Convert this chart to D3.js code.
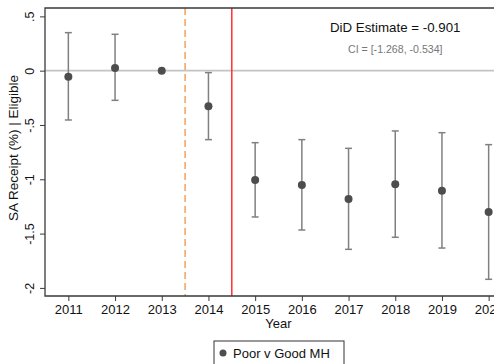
<!DOCTYPE html>
<html>
<head>
<meta charset="utf-8">
<script src="https://cdn.jsdelivr.net/npm/d3@7"></script>
<style>
  html, body { margin: 0; padding: 0; background: #fff; }
  svg { display: block; font-family: "Liberation Sans", Arial, sans-serif; }
</style>
</head>
<body>
<svg id="chart" width="494" height="364"></svg>
<script>
// Event-study estimates: SA receipt, poor vs good mental health
const years = [2011, 2012, 2013, 2014, 2015, 2016, 2017, 2018, 2019, 2020];
const estimates = [-0.055, 0.025, 0, -0.328, -1.006, -1.052, -1.181, -1.046, -1.105, -1.301];
const ciLow = [-0.454, -0.273, null, -0.635, -1.347, -1.467, -1.645, -1.534, -1.633, -1.921];
const ciHigh = [0.35, 0.335, null, -0.018, -0.663, -0.635, -0.715, -0.555, -0.571, -0.681];
const yTicks = [0.5, 0, -0.5, -1, -1.5, -2];
const yTickLabels = [".5", "0", "-.5", "-1", "-1.5", "-2"];
const announceYear = 2013.5;
const policyYear = 2014.5;
const didText = "DiD Estimate = -0.901";
const ciText = "CI = [-1.268, -0.534]";
const legendLabel = "Poor v Good MH";

const svg = d3.select("#chart");
const plot = { left: 45, right: 512, top: 8, bottom: 296 };

const x = d3.scaleLinear().domain([2010.5, 2020.5]).range([plot.left, plot.right]);
const y = d3.scaleLinear().domain([-2.0746, 0.577]).range([plot.bottom, plot.top]);

const pointColor = "#4d4d4d";
const barColor = "#808080";

// zero reference line
svg.append("line")
  .attr("x1", plot.left).attr("x2", plot.right)
  .attr("y1", y(0)).attr("y2", y(0))
  .attr("stroke", "#c4c4c4").attr("stroke-width", 1.6);

// announcement (dashed) and policy (solid) lines
svg.append("line")
  .attr("x1", x(announceYear)).attr("x2", x(announceYear))
  .attr("y1", plot.top).attr("y2", plot.bottom)
  .attr("stroke", "#f5a05a").attr("stroke-width", 1.5)
  .attr("stroke-dasharray", "7,4");
svg.append("line")
  .attr("x1", x(policyYear)).attr("x2", x(policyYear))
  .attr("y1", plot.top).attr("y2", plot.bottom)
  .attr("stroke", "#ff3030").attr("stroke-width", 1.5);

// plot frame (top + left + bottom)
svg.append("path")
  .attr("d", `M${plot.right},${plot.top}H${plot.left}V${plot.bottom}H${plot.right}`)
  .attr("fill", "none").attr("stroke", "#3a3a3a").attr("stroke-width", 1.3);

// axes
const yAxis = d3.axisLeft(y).tickValues(yTicks)
  .tickFormat((d, i) => yTickLabels[i]).tickSize(5).tickPadding(3);
const gy = svg.append("g").attr("transform", `translate(${plot.left},0)`).call(yAxis);
gy.select(".domain").remove();
gy.selectAll(".tick line").attr("stroke", "#3a3a3a").attr("stroke-width", 1);
gy.selectAll(".tick text")
  .attr("font-size", 12.5).attr("fill", "#111")
  .attr("text-anchor", "middle").attr("dy", null).attr("x", null)
  .attr("transform", "translate(-15,0) rotate(-90)")
  .attr("dominant-baseline", "central");

const xAxis = d3.axisBottom(x).tickValues(years).tickFormat(d3.format("d"))
  .tickSize(5).tickPadding(4);
const gx = svg.append("g").attr("transform", `translate(0,${plot.bottom})`).call(xAxis);
gx.select(".domain").remove();
gx.selectAll(".tick line").attr("stroke", "#3a3a3a").attr("stroke-width", 1);
gx.selectAll(".tick text").attr("font-size", 13).attr("fill", "#111");

// axis titles
svg.append("text")
  .attr("x", (plot.left + plot.right) / 2).attr("y", 328)
  .attr("text-anchor", "middle").attr("font-size", 13).attr("fill", "#111")
  .text("Year");
svg.append("text")
  .attr("transform", `translate(18,${(plot.top + plot.bottom) / 2 - 4}) rotate(-90)`)
  .attr("text-anchor", "middle").attr("font-size", 13.5).attr("fill", "#111")
  .text("SA Receipt (%) | Eligible");

// confidence intervals
const rows = years.map((yr, i) => ({ yr, est: estimates[i], lo: ciLow[i], hi: ciHigh[i] }));
const withCI = rows.filter(d => d.lo !== null);
const cap = 3.5;
const bars = svg.append("g").attr("stroke", barColor).attr("stroke-width", 1.5);
bars.selectAll("line.v").data(withCI).join("line").attr("class", "v")
  .attr("x1", d => x(d.yr)).attr("x2", d => x(d.yr))
  .attr("y1", d => y(d.hi)).attr("y2", d => y(d.lo));
bars.selectAll("line.hi").data(withCI).join("line").attr("class", "hi")
  .attr("x1", d => x(d.yr) - cap).attr("x2", d => x(d.yr) + cap)
  .attr("y1", d => y(d.hi)).attr("y2", d => y(d.hi));
bars.selectAll("line.lo").data(withCI).join("line").attr("class", "lo")
  .attr("x1", d => x(d.yr) - cap).attr("x2", d => x(d.yr) + cap)
  .attr("y1", d => y(d.lo)).attr("y2", d => y(d.lo));

// point estimates
svg.append("g").selectAll("circle").data(rows).join("circle")
  .attr("cx", d => x(d.yr)).attr("cy", d => y(d.est))
  .attr("r", 4).attr("fill", pointColor);

// DiD annotation
svg.append("text").attr("x", 330).attr("y", 32)
  .attr("font-size", 13.3).attr("fill", "#111").text(didText);
svg.append("text").attr("x", 348).attr("y", 53)
  .attr("font-size", 10.6).attr("fill", "#777").text(ciText);

// legend
svg.append("rect").attr("x", 214).attr("y", 341).attr("width", 130).attr("height", 40)
  .attr("fill", "#fff").attr("stroke", "#333").attr("stroke-width", 1);
svg.append("circle").attr("cx", 223).attr("cy", 353).attr("r", 3.5).attr("fill", pointColor);
svg.append("text").attr("x", 233).attr("y", 358)
  .attr("font-size", 13).attr("fill", "#111").text(legendLabel);
</script>
</body>
</html>
